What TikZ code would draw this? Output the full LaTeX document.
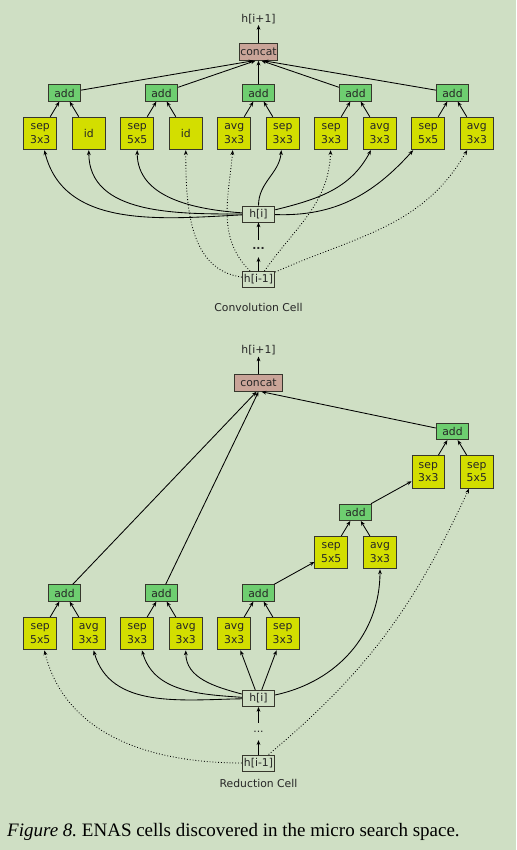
\documentclass[tikz,border=0pt]{standalone}
\usepackage{fontspec}
\setmainfont{DejaVu Sans}
\newfontfamily\capfont{Liberation Serif}
\usetikzlibrary{arrows.meta}
\definecolor{bgc}{RGB}{207,223,196}
\definecolor{opc}{RGB}{211,222,0}
\definecolor{addc}{RGB}{110,206,112}
\definecolor{catc}{RGB}{201,164,152}
\definecolor{bdc}{RGB}{55,55,45}
\frenchspacing
\begin{document}
\begin{tikzpicture}[x=1pt,y=1pt,
  font=\fontsize{10.8}{13.3}\selectfont,
  box/.style={draw=bdc, line width=0.95pt, inner sep=0pt, text=black!85, align=center},
  opbox/.style={box, fill=opc, minimum width=32.5pt, minimum height=32.5pt},
  addbox/.style={box, fill=addc, minimum width=32.5pt, minimum height=16.3pt},
  catbox/.style={box, fill=catc, minimum height=16.5pt},
  hbox/.style={box, minimum width=32.5pt, minimum height=16pt},
  lab/.style={inner sep=1pt, text=black!85},
  dotsn/.style={inner sep=0pt, minimum height=17pt, text=black!85},
  arr/.style={-{Stealth[length=4.8pt,width=3.8pt]}, line width=0.85pt},
  dotarr/.style={arr, dotted}
]
\fill[bgc] (0,0) rectangle (516,850);
\useasboundingbox (0,0) rectangle (516,850);

% ================= Convolution cell =================
\node[lab] (t-out) at (258.5,831) {h[i+1]};
\node[catbox, minimum width=38pt] (t-cat) at (258.5,798) {concat};
\foreach \i/\x in {1/64.5,2/161.5,3/258.5,4/355.5,5/452.5}
  \node[addbox] (t-add\i) at (\x,757) {add};
\node[opbox] (t-o1) at (40.2,716.5) {sep\\3x3};
\node[opbox] (t-o2) at (88.8,716.5) {id};
\node[opbox] (t-o3) at (137.2,716.5) {sep\\5x5};
\node[opbox] (t-o4) at (185.8,716.5) {id};
\node[opbox] (t-o5) at (234.2,716.5) {avg\\3x3};
\node[opbox] (t-o6) at (282.8,716.5) {sep\\3x3};
\node[opbox] (t-o7) at (331.2,716.5) {sep\\3x3};
\node[opbox] (t-o8) at (379.8,716.5) {avg\\3x3};
\node[opbox] (t-o9) at (428.2,716.5) {sep\\5x5};
\node[opbox] (t-o10) at (476.8,716.5) {avg\\3x3};
\node[hbox] (t-hi) at (258.5,636) {h[i]};
\node[dotsn] (t-dots) at (258.5,601.5) {\textbf{...}};
\node[hbox] (t-hm) at (258.5,570.5) {h[i-1]};
\node[lab] (t-label) at (258.5,543) {Convolution Cell};

\draw[arr] (t-cat) -- (t-out);
\draw[arr] (t-add1) -- ([xshift=-5pt]t-cat.south);
\draw[arr] (t-add2) -- ([xshift=-3pt]t-cat.south);
\draw[arr] (t-add3) -- (t-cat.south);
\draw[arr] (t-add4) -- ([xshift=3pt]t-cat.south);
\draw[arr] (t-add5) -- ([xshift=5pt]t-cat.south);
\foreach \i/\a/\b in {1/1/2,2/3/4,3/5/6,4/7/8,5/9/10}{
  \draw[arr] (t-o\a) -- (t-add\i);
  \draw[arr] (t-o\b) -- (t-add\i);
}
\draw[arr] (t-hi) to[out=183,in=-76] (t-o1);
\draw[arr] (t-hi) to[out=180,in=-90] (t-o2);
\draw[arr] (t-hi) to[out=176,in=-90] (t-o3);
\draw[arr] (t-hi) to[out=90,in=-95] (t-o6);
\draw[arr] (t-hi) to[out=14,in=-118] (t-o8);
\draw[arr] (t-hi) to[out=-2,in=-132] (t-o9);
\draw[dotarr] (t-hm) to[out=172,in=-90] (t-o4);
\draw[dotarr] (t-hm) to[out=135,in=-95] (t-o5);
\draw[dotarr] (t-hm) to[out=55,in=-92] (t-o7);
\draw[dotarr] (t-hm) to[out=24,in=-120] (t-o10);
\draw[arr] (t-hm) -- (t-dots);
\draw[arr] (t-dots) -- (t-hi);

% ================= Reduction cell =================
\node[lab] (b-out) at (258.5,499.5) {h[i+1]};
\node[catbox, minimum width=48pt] (b-cat) at (258.5,467) {concat};
\node[addbox] (b-addT) at (452.5,418.5) {add};
\node[opbox] (b-t3) at (428.3,378) {sep\\3x3};
\node[opbox] (b-t5) at (476.8,378) {sep\\5x5};
\node[addbox] (b-addM) at (355.5,337.7) {add};
\node[opbox] (b-m5) at (331.2,297.3) {sep\\5x5};
\node[opbox] (b-mavg) at (380,297.3) {avg\\3x3};
\foreach \i/\x in {1/64.5,2/161.5,3/258.5}
  \node[addbox] (b-add\i) at (\x,257) {add};
\node[opbox] (b-o1) at (40.2,216.3) {sep\\5x5};
\node[opbox] (b-o2) at (88.8,216.3) {avg\\3x3};
\node[opbox] (b-o3) at (137.2,216.3) {sep\\3x3};
\node[opbox] (b-o4) at (185.8,216.3) {avg\\3x3};
\node[opbox] (b-o5) at (234.2,216.3) {avg\\3x3};
\node[opbox] (b-o6) at (282.8,216.3) {sep\\3x3};
\node[hbox] (b-hi) at (258.5,151.5) {h[i]};
\node[dotsn] (b-dots) at (258.5,118.5) {...};
\node[hbox] (b-hm) at (258.5,87) {h[i-1]};
\node[lab] (b-label) at (258.5,66.5) {Reduction Cell};

\draw[arr] (b-cat) -- (b-out);
\draw[arr] (b-add1) -- ([xshift=-2pt]b-cat.south);
\draw[arr] (b-add2) -- ([xshift=0pt]b-cat.south);
\draw[arr] (b-addT) -- ([xshift=3pt]b-cat.south);
\draw[arr] (b-t3) -- (b-addT);
\draw[arr] (b-t5) -- (b-addT);
\draw[arr] (b-addM) -- (b-t3);
\draw[arr] (b-m5) -- (b-addM);
\draw[arr] (b-mavg) -- (b-addM);
\draw[arr] (b-add3) -- (b-m5);
\foreach \i/\a/\b in {1/1/2,2/3/4,3/5/6}{
  \draw[arr] (b-o\a) -- (b-add\i);
  \draw[arr] (b-o\b) -- (b-add\i);
}
\draw[arr] (b-hi) to[out=181,in=-74] (b-o2);
\draw[arr] (b-hi) to[out=176,in=-74] (b-o3);
\draw[arr] (b-hi) to[out=165,in=-90] (b-o4);
\draw[arr] (b-hi) -- (b-o5);
\draw[arr] (b-hi) -- (b-o6);
\draw[arr] (b-hi) to[out=12,in=-90] (b-mavg);
\draw[dotarr] (b-hm) to[out=180,in=-76] (b-o1);
\draw[dotarr] (b-hm) to[out=40,in=-115] (b-t5);
\draw[arr] (b-hm) -- (b-dots);
\draw[arr] (b-dots) -- (b-hi);

% ================= Caption =================
\node[anchor=base west, inner sep=0pt, font=\capfont\fontsize{19}{22}\selectfont] (cap) at (7,13.5)
  {\textit{Figure 8.} ENAS cells discovered in the micro search space.};
\end{tikzpicture}
\end{document}
